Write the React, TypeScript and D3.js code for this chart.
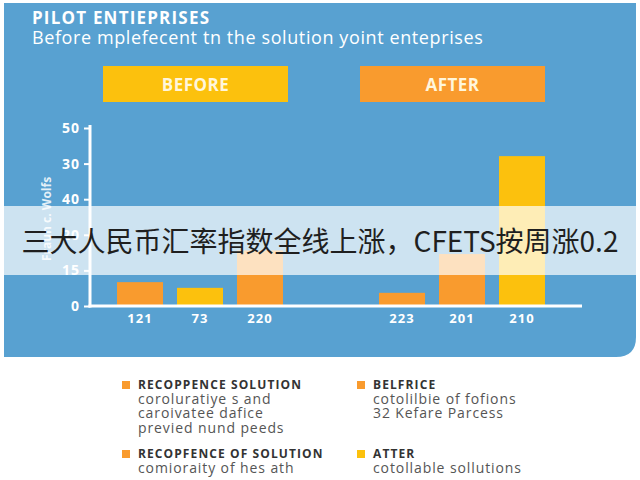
import React, { useRef, useEffect } from 'react';
import * as d3 from 'd3';

// chart values
const groups = ['BEFORE', 'AFTER'];
const categories = [['121', '73', '220'], ['223', '201', '210']];
const values = [[6.7, 5.1, 15.6], [3.7, 14.6, 42.1]];
const barColors = [['#F99B2E', '#FCC10D', '#F99B2E'], ['#F99B2E', '#F99B2E', '#FCC10D']];
const yTicks = [0, 10, 20, 30, 40, 50];
const yTickLabels = ['0', '15', '20', '40', '30', '50'];

const legendItems = [
  { title: 'RECOPPENCE SOLUTION', lines: ['coroluratiye s and', 'caroivatee dafice', 'previed nund peeds'], color: '#F99B2E' },
  { title: 'BELFRICE', lines: ['cotolilbie of fofions', '32 Kefare Parcess'], color: '#F99B2E' },
  { title: 'RECOPFENCE OF SOLUTION', lines: ['comioraity of hes ath'], color: '#F99B2E' },
  { title: 'ATTER', lines: ['cotollable sollutions'], color: '#FCC10D' },
];

const BLUE = '#58A1D1';
const FONT = '"Open Sans", "Noto Sans", sans-serif';

const App: React.FC = () => {
  const svgRef = useRef<SVGSVGElement | null>(null);

  useEffect(() => {
    if (!svgRef.current) return;
    const svg = d3.select(svgRef.current);
    svg.selectAll('*').remove();

    // blue panel with rounded bottom-right corner
    const px0 = 4, py0 = 3, px1 = 636, py1 = 357, r = 20;
    svg.append('path')
      .attr('d', `M${px0},${py0}H${px1}V${py1 - r}Q${px1},${py1} ${px1 - r},${py1}H${px0}Z`)
      .attr('fill', BLUE);

    // header
    svg.append('text')
      .attr('x', 32).attr('y', 24)
      .attr('font-family', FONT).attr('font-weight', 700).attr('font-size', 17)
      .attr('letter-spacing', 1.2)
      .attr('fill', '#fff')
      .text('PILOT ENTIEPRISES');
    svg.append('text')
      .attr('x', 32).attr('y', 44)
      .attr('font-family', FONT).attr('font-size', 18)
      .attr('letter-spacing', 0.6)
      .attr('fill', '#fff')
      .text('Before mplefecent tn the solution yoint enteprises');

    // scales
    const yScale = d3.scaleLinear().domain([0, 50]).range([306, 128]);
    const xGroup = d3.scaleBand().domain(groups).range([110, 552]).paddingInner(0.313);
    const xInner = d3.scaleBand<number>().domain([0, 1, 2]).range([0, xGroup.bandwidth()])
      .paddingInner(0.233).paddingOuter(0.117);

    // group header boxes
    const boxColors = ['#FCC10D', '#F99B2E'];
    const boxX = [103, 360];
    groups.forEach((g, i) => {
      svg.append('rect')
        .attr('x', boxX[i]).attr('y', 66)
        .attr('width', 185).attr('height', 36)
        .attr('fill', boxColors[i]);
      svg.append('text')
        .attr('x', boxX[i] + 92.5).attr('y', 91)
        .attr('text-anchor', 'middle')
        .attr('font-family', FONT).attr('font-weight', 700).attr('font-size', 17)
        .attr('letter-spacing', 0.5)
        .attr('fill', '#FFF6DC')
        .text(g);
    });

    // bars
    groups.forEach((g, gi) => {
      const gx = xGroup(g)!;
      values[gi].forEach((v, i) => {
        svg.append('rect')
          .attr('x', gx + xInner(i)!)
          .attr('y', yScale(v))
          .attr('width', xInner.bandwidth())
          .attr('height', yScale(0) - yScale(v))
          .attr('fill', barColors[gi][i]);
        svg.append('text')
          .attr('x', gx + xInner(i)! + xInner.bandwidth() / 2)
          .attr('y', 323)
          .attr('text-anchor', 'middle')
          .attr('font-family', FONT).attr('font-weight', 700).attr('font-size', 13)
          .attr('letter-spacing', 1)
          .attr('fill', '#fff')
          .text(categories[gi][i]);
      });
    });

    // y axis
    const yAxis = svg.append('g')
      .attr('transform', 'translate(90,0)')
      .call(d3.axisLeft(yScale).tickValues(yTicks)
        .tickFormat((_, i) => yTickLabels[i]).tickSize(6).tickPadding(4).tickSizeOuter(0));
    yAxis.select('.domain').remove();
    yAxis.selectAll('line').attr('stroke', '#fff').attr('stroke-width', 2);
    yAxis.selectAll('text')
      .attr('fill', '#fff').attr('font-family', FONT).attr('font-weight', 700).attr('font-size', 14)
      .attr('letter-spacing', 1);

    svg.append('line')
      .attr('x1', 90).attr('x2', 90)
      .attr('y1', yScale(50) - 3).attr('y2', yScale(0) + 1.5)
      .attr('stroke', '#fff').attr('stroke-width', 3);
    svg.append('line')
      .attr('x1', 88.5).attr('x2', 582)
      .attr('y1', yScale(0)).attr('y2', yScale(0))
      .attr('stroke', '#fff').attr('stroke-width', 3);

    // y axis title
    svg.append('text')
      .attr('transform', 'translate(51,219) rotate(-90)')
      .attr('text-anchor', 'middle')
      .attr('font-family', FONT).attr('font-weight', 700).attr('font-size', 12)
      .attr('fill', '#fff').attr('fill-opacity', 0.85)
      .text('Fraun c. Wolfs');

    // legend
    const legendX = [122, 357];
    const legendY = [389, 458];
    legendItems.forEach((item, i) => {
      const lx = legendX[i % 2];
      const ly = legendY[Math.floor(i / 2)];
      svg.append('rect')
        .attr('x', lx).attr('y', ly - 8)
        .attr('width', 8).attr('height', 8)
        .attr('fill', item.color);
      svg.append('text')
        .attr('x', lx + 16).attr('y', ly)
        .attr('font-family', FONT).attr('font-weight', 700).attr('font-size', 12)
        .attr('letter-spacing', 1.1)
        .attr('fill', '#333')
        .text(item.title);
      item.lines.forEach((line, j) => {
        svg.append('text')
          .attr('x', lx + 16).attr('y', ly + 14.5 * (j + 1))
          .attr('font-family', FONT).attr('font-size', 14)
          .attr('letter-spacing', 0.9)
          .attr('fill', '#555')
          .text(line);
      });
    });

    // translucent news banner on top
    svg.append('rect')
      .attr('x', 0).attr('y', 206)
      .attr('width', 640).attr('height', 69)
      .attr('fill', '#fff').attr('fill-opacity', 0.7);
    svg.append('text')
      .attr('x', 320).attr('y', 252)
      .attr('text-anchor', 'middle')
      .attr('font-family', '"Noto Sans CJK SC", sans-serif').attr('font-size', 28)
      .attr('fill', '#1f1f1f')
      .text('三大人民币汇率指数全线上涨，CFETS按周涨0.2');

    return () => {
      d3.select(svgRef.current).selectAll('*').remove();
    };
  }, []);

  return (
    <svg
      ref={svgRef}
      width={640}
      height={480}
      style={{ position: 'absolute', left: 0, top: 0, background: '#fff' }}
    />
  );
};

export default App;
